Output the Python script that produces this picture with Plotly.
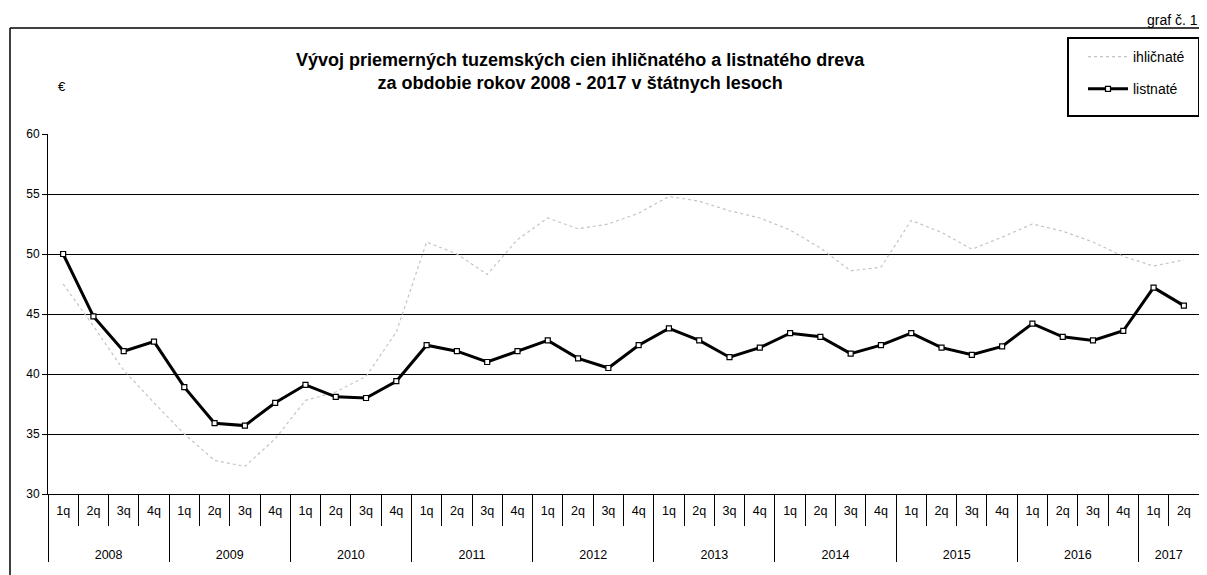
import plotly.graph_objects as go

years = ["2008"] * 4 + ["2009"] * 4 + ["2010"] * 4 + ["2011"] * 4 + ["2012"] * 4 + \
        ["2013"] * 4 + ["2014"] * 4 + ["2015"] * 4 + ["2016"] * 4 + ["2017"] * 2
quarters = ["1q", "2q", "3q", "4q"] * 9 + ["1q", "2q"]

listnate = [50.0, 44.8, 41.9, 42.7, 38.9, 35.9, 35.7, 37.6, 39.1, 38.1, 38.0, 39.4,
            42.4, 41.9, 41.0, 41.9, 42.8, 41.3, 40.5, 42.4, 43.8, 42.8, 41.4, 42.2,
            43.4, 43.1, 41.7, 42.4, 43.4, 42.2, 41.6, 42.3, 44.2, 43.1, 42.8, 43.6,
            47.2, 45.7]

ihlicnate = [47.5, 44.0, 40.3, 37.6, 35.0, 32.8, 32.3, 34.6, 37.8, 38.5, 39.8, 43.5,
             51.0, 50.0, 48.3, 51.2, 53.0, 52.1, 52.5, 53.4, 54.8, 54.4, 53.6, 53.0,
             52.0, 50.5, 48.6, 48.9, 52.8, 51.8, 50.4, 51.4, 52.5, 51.9, 51.0, 49.8,
             49.0, 49.5]

title_lines = ["Vývoj priemerných tuzemských cien ihličnatého a listnatého dreva",
               "za obdobie rokov 2008 - 2017 v štátnych lesoch"]

FONT = "Liberation Sans, Arial, sans-serif"

# year labels displayed lower (leading line breaks) like the reference table
year_labels = ["<br><br>" + y for y in years]

fig = go.Figure()
fig.add_trace(go.Scatter(
    x=[year_labels, quarters], y=ihlicnate, name="ihličnaté", mode="lines",
    line=dict(color="#c4c4c4", width=1.2, dash="dot"),
    legendgroup="a",
))
fig.add_trace(go.Scatter(
    x=[year_labels, quarters], y=listnate, name="listnaté", mode="lines+markers",
    line=dict(color="black", width=3),
    marker=dict(symbol="square", size=5, color="white", line=dict(color="black", width=1.2)),
    legendgroup="b",
))

# page has an 8px body margin: figure origin sits at page (8, 8)
OFF = 8
W, H = 1199, 567
L, R, T, B = 48 - OFF, 8, 134 - OFF, 81
pw, ph = W - L - R, H - T - B

def px(x):  # page pixel -> paper
    return (x - OFF - L) / pw

def py(y):
    return (H - B - (y - OFF)) / ph

fig.update_layout(
    width=W, height=H,
    margin=dict(l=L, r=R, t=T, b=B, pad=0, autoexpand=False),
    paper_bgcolor="white", plot_bgcolor="white",
    font=dict(family=FONT, size=12, color="black"),
    showlegend=True,
    legend=dict(x=px(1083), y=py(41), xanchor="left", yanchor="top",
                bgcolor="rgba(0,0,0,0)", borderwidth=0, tracegroupgap=11,
                font=dict(size=14), itemwidth=40),
    xaxis=dict(type="multicategory", range=[-0.5, len(quarters) - 0.5], automargin=False,
               showline=True, linecolor="black", linewidth=1,
               ticks="outside", tickson="boundaries", ticklen=31, tickcolor="black",
               ticklabelstandoff=5,
               showdividers=True, dividercolor="black", dividerwidth=1,
               showgrid=False, tickfont=dict(size=12.5)),
    yaxis=dict(range=[30, 60], dtick=5, automargin=False, showgrid=True, gridcolor="black", gridwidth=1,
               showline=True, linecolor="black", linewidth=1, ticks="outside", ticklen=5,
               tickcolor="black", zeroline=False, tickfont=dict(size=12)),
    shapes=[
        dict(type="line", xref="paper", yref="paper", x0=px(10), x1=px(1207), y0=py(28), y1=py(28),
             line=dict(color="black", width=1.5)),
        dict(type="line", xref="paper", yref="paper", x0=px(10), x1=px(10), y0=py(28), y1=py(575),
             line=dict(color="black", width=1.5)),
        dict(type="line", xref="paper", yref="paper", x0=px(1204), x1=px(1204), y0=py(120), y1=py(575),
             line=dict(color="#666666", width=1)),
        dict(type="rect", xref="paper", yref="paper", x0=px(1068), x1=px(1199), y0=py(38), y1=py(116),
             line=dict(color="black", width=2), fillcolor="white", layer="below"),
    ],
    annotations=[
        dict(text="<b>" + title_lines[0] + "</b><br><b>" + title_lines[1] + "</b>", xref="paper", yref="paper",
             x=px(580), y=py(48), xanchor="center", yanchor="top", showarrow=False,
             font=dict(size=18, family=FONT), align="center"),
        dict(text="€", xref="paper", yref="paper", x=px(62), y=py(86), xanchor="center", yanchor="middle",
             showarrow=False, font=dict(size=13, family=FONT)),
        dict(text="graf\u00a0č.\u00a01", xref="paper", yref="paper", x=px(1200), y=py(10), xanchor="right",
             yanchor="top", showarrow=False, font=dict(size=14, family=FONT)),
    ],
)

fig.write_html("out.html")
